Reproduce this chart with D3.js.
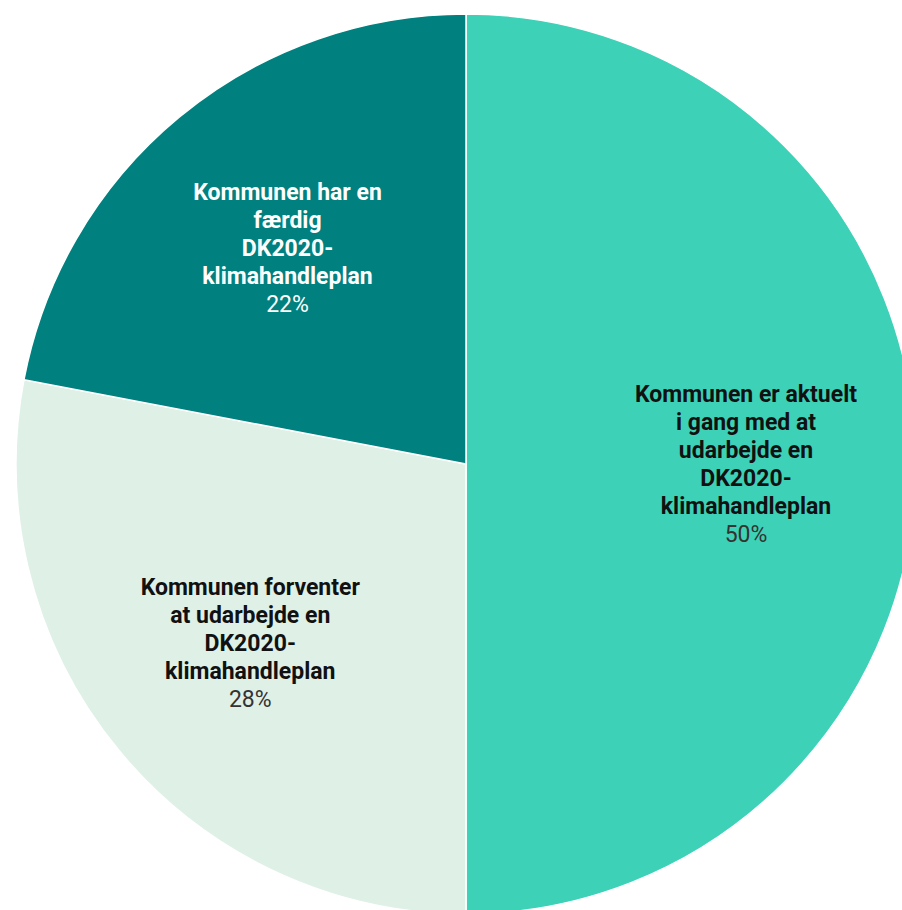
<!DOCTYPE html>
<html>
<head>
<meta charset="utf-8">
<script src="https://cdn.jsdelivr.net/npm/d3@7"></script>
<style>
  body { margin: 0; background: #fff; }
  svg { display: block; }
</style>
</head>
<body>
<div id="chart"></div>
<script>
// data
const categories = [
  'Kommunen er aktuelt i gang med at udarbejde en DK2020-klimahandleplan',
  'Kommunen forventer at udarbejde en DK2020-klimahandleplan',
  'Kommunen har en færdig DK2020-klimahandleplan'
]
const labelLines = [
  ['Kommunen er aktuelt', 'i gang med at', 'udarbejde en', 'DK2020-', 'klimahandleplan'],
  ['Kommunen forventer', 'at udarbejde en', 'DK2020-', 'klimahandleplan'],
  ['Kommunen har en', 'færdig', 'DK2020-', 'klimahandleplan']
]
const values = [50, 28, 22]
const colors = ['#3dd2b7', '#dff0e7', '#00817f']
const textColors = ['#111', '#111', '#fff']
const pctColors = ['#333', '#333', '#fff']

const width = 902
const height = 910
const cx = 466
const cy = 464
const radius = 450
const lineH = 28

const svg = d3.select('#chart').append('svg')
  .attr('width', width)
  .attr('height', height)

const g = svg.append('g')
  .attr('transform', `translate(${cx}, ${cy})`)

const rows = categories.map((c, i) => ({ key: c, value: values[i], i }))

const pie = d3.pie().sort(null).value(d => d.value)
const arcs = pie(rows)
const arc = d3.arc().innerRadius(0).outerRadius(radius)
const labelArc = d3.arc().innerRadius(280 * 2 - radius).outerRadius(radius)

g.selectAll('path')
  .data(arcs)
  .join('path')
  .attr('d', arc)
  .attr('fill', d => colors[d.data.i])
  .attr('stroke', '#fff')
  .attr('stroke-width', 1.5)

const total = d3.sum(values)
const labels = g.selectAll('g.label')
  .data(arcs)
  .join('g')
  .attr('class', 'label')
  .attr('transform', d => {
    const [x, y] = labelArc.centroid(d)
    return `translate(${x}, ${y})`
  })

labels.each(function (d) {
  const lines = labelLines[d.data.i]
  const n = lines.length + 1
  const top = -(n - 1) * lineH / 2
  const t = d3.select(this).append('text')
    .attr('text-anchor', 'middle')
    .style('font-family', 'Roboto, sans-serif')
    .style('font-size', '23px')
  lines.forEach((l, k) => {
    t.append('tspan')
      .attr('x', 0)
      .attr('y', top + k * lineH)
      .attr('dy', '0.35em')
      .attr('font-weight', 700)
      .attr('fill', textColors[d.data.i])
      .text(l)
  })
  t.append('tspan')
    .attr('x', 0)
    .attr('y', top + lines.length * lineH)
    .attr('dy', '0.35em')
    .attr('font-weight', 400)
    .attr('fill', pctColors[d.data.i])
    .text(Math.round(d.data.value / total * 100) + '%')
})
</script>
</body>
</html>
